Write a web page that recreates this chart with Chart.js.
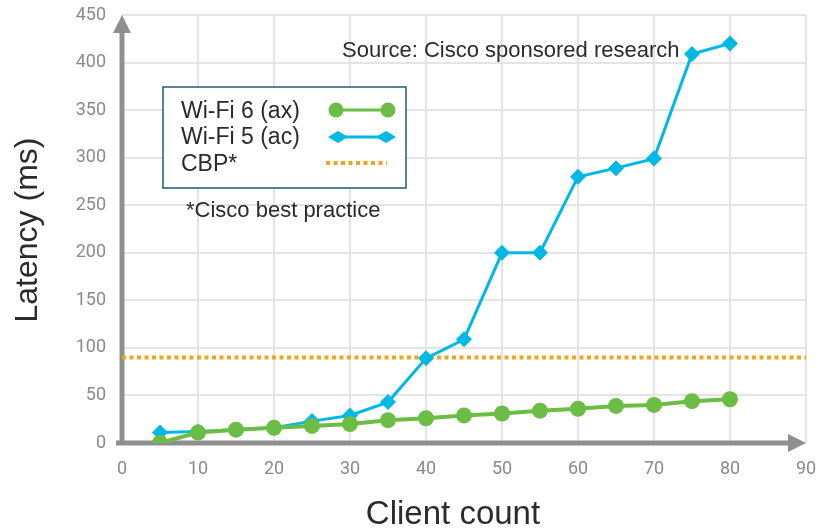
<!DOCTYPE html>
<html>
<head>
<meta charset="utf-8">
<script src="https://cdn.jsdelivr.net/npm/chart.js@4"></script>
<style>
  html, body { margin: 0; padding: 0; background: #fff; }
  #wrap { width: 819px; height: 531px; }
</style>
</head>
<body>
<div id="wrap"><canvas id="latencyChart" width="819" height="531"></canvas></div>
<script>
// Data
const clientCounts = [5, 10, 15, 20, 25, 30, 35, 40, 45, 50, 55, 60, 65, 70, 75, 80];
const wifi6Latency = [0, 11, 14, 16, 18, 20, 24, 26, 29, 31, 34, 36, 39, 40, 44, 46];
const wifi5Latency = [11, 12, 14, 16, 23, 29, 43, 89, 109, 200, 200, 280, 289, 299, 409, 420];
const cbpLatency = 90;
const cbpRange = [0, 90];
const seriesLabels = ['Wi-Fi 6 (ax)', 'Wi-Fi 5 (ac)', 'CBP*'];
const xTitle = 'Client count';
const yTitle = 'Latency (ms)';

const GREEN = '#6cbd45';
const BLUE = '#00b8e6';
const ORANGE = '#f5a31a';
const AXIS_GRAY = '#8f8f8f';
const TEXT = '#2b2b2b';
const FONT = '"Liberation Sans", Arial, sans-serif';
const TICK_FONT = 'Roboto, "Liberation Sans", sans-serif';

const toPoints = (xs, ys) => xs.map((x, i) => ({ x: x, y: ys[i] }));

// Draws the arrowed axes behind the series
const arrowAxes = {
    id: 'arrowAxes',
    beforeDatasetsDraw(chart) {
        const { ctx, chartArea: a } = chart;
        ctx.save();
        ctx.strokeStyle = AXIS_GRAY;
        ctx.fillStyle = AXIS_GRAY;
        ctx.lineWidth = 5;
        ctx.beginPath();
        ctx.moveTo(a.left, a.bottom + 2);
        ctx.lineTo(a.left, a.top + 16);
        ctx.moveTo(a.left - 6, a.bottom);
        ctx.lineTo(a.right - 16, a.bottom);
        ctx.stroke();
        // y arrow head
        ctx.beginPath();
        ctx.moveTo(a.left, a.top);
        ctx.lineTo(a.left - 9, a.top + 18);
        ctx.lineTo(a.left + 9, a.top + 18);
        ctx.closePath();
        ctx.fill();
        // x arrow head
        ctx.beginPath();
        ctx.moveTo(a.right, a.bottom);
        ctx.lineTo(a.right - 18, a.bottom - 9);
        ctx.lineTo(a.right - 18, a.bottom + 9);
        ctx.closePath();
        ctx.fill();
        ctx.restore();
    }
};

// Legend box, notes and axis titles
const notes = {
    id: 'notes',
    afterDraw(chart) {
        const ctx = chart.ctx;
        ctx.save();
        // legend box
        ctx.fillStyle = '#fff';
        ctx.fillRect(163, 87, 243, 101);
        ctx.strokeStyle = '#1d5c7a';
        ctx.lineWidth = 1.5;
        ctx.strokeRect(163, 87, 243, 101);

        ctx.fillStyle = TEXT;
        ctx.font = '23px ' + FONT;
        ctx.textBaseline = 'middle';
        ctx.fillText(seriesLabels[0], 181, 112);
        ctx.fillText(seriesLabels[1], 181, 138);
        ctx.fillText(seriesLabels[2], 181, 165);

        // green swatch
        ctx.strokeStyle = GREEN;
        ctx.lineWidth = 3;
        ctx.beginPath();
        ctx.moveTo(336, 110); ctx.lineTo(388, 110); ctx.stroke();
        ctx.fillStyle = GREEN;
        [336, 388].forEach(x => {
            ctx.beginPath(); ctx.arc(x, 110, 7.5, 0, Math.PI * 2); ctx.fill();
        });
        // blue swatch
        ctx.strokeStyle = BLUE;
        ctx.beginPath();
        ctx.moveTo(336, 137); ctx.lineTo(388, 137); ctx.stroke();
        ctx.fillStyle = BLUE;
        [338, 386].forEach(x => {
            ctx.beginPath();
            ctx.moveTo(x - 10, 137); ctx.lineTo(x, 131); ctx.lineTo(x + 10, 137); ctx.lineTo(x, 143);
            ctx.closePath(); ctx.fill();
        });
        // orange dotted swatch
        ctx.strokeStyle = ORANGE;
        ctx.lineWidth = 4;
        ctx.setLineDash([4, 3.5]);
        ctx.beginPath();
        ctx.moveTo(326, 163); ctx.lineTo(387, 163); ctx.stroke();
        ctx.setLineDash([]);

        ctx.fillStyle = TEXT;
        ctx.font = '22px ' + FONT;
        ctx.fillText('Source: Cisco sponsored research', 342, 51);
        ctx.fillText('*Cisco best practice', 186, 211);

        // axis titles
        ctx.textAlign = 'center';
        ctx.font = '33px ' + FONT;
        ctx.fillText(xTitle, 453, 515);
        ctx.translate(28, 230);
        ctx.rotate(-Math.PI / 2);
        ctx.font = '32px ' + FONT;
        ctx.fillText(yTitle, 0, 0);
        ctx.restore();
    }
};

new Chart(document.getElementById('latencyChart'), {
    type: 'line',
    data: {
        datasets: [
            {
                label: seriesLabels[2],
                data: toPoints(cbpRange, [cbpLatency, cbpLatency]),
                borderColor: ORANGE,
                borderWidth: 4,
                borderDash: [4, 3.5],
                pointRadius: 0,
                order: 3
            },
            {
                label: seriesLabels[1],
                data: toPoints(clientCounts, wifi5Latency),
                borderColor: BLUE,
                backgroundColor: BLUE,
                borderWidth: 3,
                pointStyle: 'rectRot',
                pointRadius: 8,
                pointBorderWidth: 0,
                order: 2
            },
            {
                label: seriesLabels[0],
                data: toPoints(clientCounts, wifi6Latency),
                borderColor: GREEN,
                backgroundColor: GREEN,
                borderWidth: 4,
                pointStyle: 'circle',
                pointRadius: 8,
                pointBorderWidth: 0,
                order: 1
            }
        ]
    },
    options: {
        responsive: false,
        animation: false,
        layout: { padding: { top: 15, right: 13, left: 0, bottom: 0 } },
        plugins: { legend: { display: false }, tooltip: { enabled: false } },
        scales: {
            x: {
                type: 'linear',
                min: 0,
                max: 90,
                border: { display: false },
                grid: { color: '#e4e4e4', lineWidth: 2, drawTicks: false },
                ticks: { stepSize: 10, color: '#8a8a8a', padding: 16, font: { family: TICK_FONT, size: 18 } },
                afterFit(scale) {
                    scale.height = 88;
                    scale.paddingLeft = 0;
                    scale.paddingRight = 0;
                }
            },
            y: {
                min: 0,
                max: 450,
                border: { display: false },
                grid: { color: '#e4e4e4', lineWidth: 2, drawTicks: false },
                ticks: { stepSize: 50, color: '#8a8a8a', padding: 16, font: { family: TICK_FONT, size: 18 } },
                afterFit(scale) {
                    scale.width = 122;
                    scale.paddingTop = 0;
                    scale.paddingBottom = 0;
                }
            }
        }
    },
    plugins: [arrowAxes, notes]
});
</script>
</body>
</html>
